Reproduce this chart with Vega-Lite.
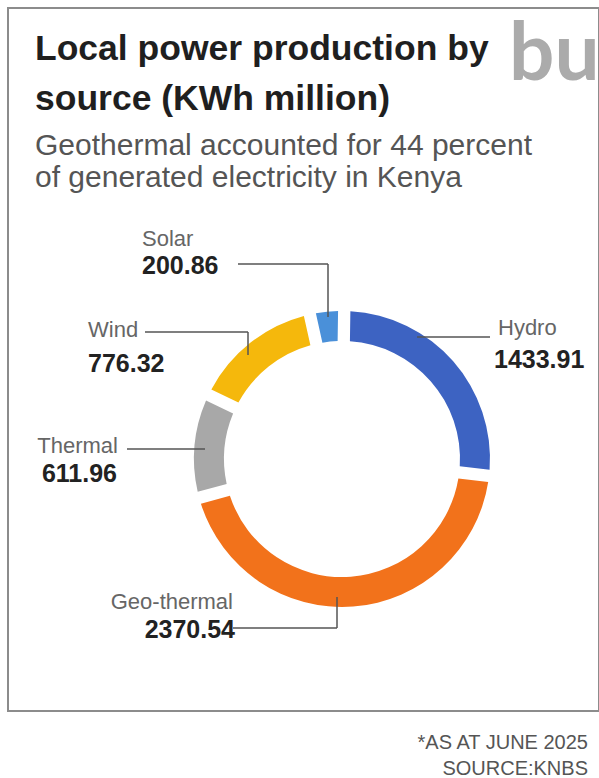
{
  "$schema": "https://vega.github.io/schema/vega-lite/v6.json",
  "width": 591,
  "height": 703,
  "autosize": {"type": "none"},
  "padding": {"left": 8, "top": 8, "right": 0, "bottom": 67},
  "background": "white",
  "config": {"view": {"stroke": null}, "font": "Liberation Sans"},
  "title": {
    "text": ["Local power production by", "source (KWh million)"],
    "subtitle": ["Geothermal accounted for 44 percent", "of generated electricity in Kenya"],
    "anchor": "start",
    "frame": "group",
    "orient": "top",
    "offset": -186,
    "dx": 27,
    "font": "Liberation Sans",
    "fontSize": 35.5,
    "fontWeight": "bold",
    "color": "#1f1f1f",
    "lineHeight": 50,
    "subtitleFont": "Liberation Sans",
    "subtitleFontSize": 30,
    "subtitleColor": "#555555",
    "subtitleLineHeight": 32,
    "subtitlePadding": 14
  },
  "datasets": {
    "power": [
      {"source": "Hydro", "value": 1433.91},
      {"source": "Geo-thermal", "value": 2370.54},
      {"source": "Thermal", "value": 611.96},
      {"source": "Wind", "value": 776.32},
      {"source": "Solar", "value": 200.86}
    ],
    "labels": [
      {"source": "Solar", "label": "Solar", "side": "left", "nx": -200, "ny": 213, "vx": -200, "vy": 185},
      {"source": "Wind", "label": "Wind", "side": "left", "nx": -254, "ny": 122, "vx": -254, "vy": 87},
      {"source": "Hydro", "label": "Hydro", "side": "left", "nx": 156, "ny": 124, "vx": 152, "vy": 91},
      {"source": "Thermal", "label": "Thermal", "side": "right", "nx": -224, "ny": 6, "vx": -225, "vy": -23},
      {"source": "Geo-thermal", "label": "Geo-thermal", "side": "right", "nx": -109, "ny": -150, "vx": -107, "vy": -179}
    ],
    "leaders": [
      {"source": "Solar", "x": -104, "y": 195, "x2": -14, "y2": 195},
      {"source": "Solar", "x": -14, "y": 195, "x2": -14, "y2": 142},
      {"source": "Wind", "x": -197, "y": 127, "x2": -94, "y2": 127},
      {"source": "Wind", "x": -94, "y": 127, "x2": -94, "y2": 104},
      {"source": "Hydro", "x": 75, "y": 122, "x2": 148, "y2": 122},
      {"source": "Thermal", "x": -215, "y": 10, "x2": -137, "y2": 10},
      {"source": "Geo-thermal", "x": -109, "y": -169, "x2": -5, "y2": -169},
      {"source": "Geo-thermal", "x": -5, "y": -169, "x2": -5, "y2": -138}
    ]
  },
  "layer": [
    {
      "data": {"values": [{}]},
      "mark": {"type": "rect", "fillOpacity": 0, "stroke": "#8c8c8c", "strokeWidth": 2},
      "encoding": {
        "x": {"datum": -334, "type": "quantitative", "scale": {"domain": [-334, 257], "nice": false, "zero": false}, "axis": null},
        "x2": {"datum": 257},
        "y": {"datum": 451, "type": "quantitative", "scale": {"domain": [-252, 451], "nice": false, "zero": false}, "axis": null},
        "y2": {"datum": -252}
      }
    },
    {
      "data": {"name": "power"},
      "transform": [{"window": [{"op": "row_number", "as": "idx"}]}],
      "mark": {"type": "arc", "outerRadius": 148, "innerRadius": 118, "padAngle": 0.065},
      "encoding": {
        "x": {"datum": 0, "type": "quantitative", "scale": {"domain": [-334, 257], "nice": false, "zero": false}, "axis": null},
        "y": {"datum": 0, "type": "quantitative", "scale": {"domain": [-252, 451], "nice": false, "zero": false}, "axis": null},
        "theta": {"field": "value", "type": "quantitative", "stack": true, "scale": {"range": [0.015, 6.2982]}},
        "order": {"field": "idx", "type": "quantitative"},
        "color": {
          "field": "source",
          "type": "nominal",
          "scale": {
            "domain": ["Hydro", "Geo-thermal", "Thermal", "Wind", "Solar"],
            "range": ["#3d63c2", "#f2721b", "#a8a8a8", "#f5b80c", "#4a90d9"]
          },
          "legend": null
        }
      }
    },
    {
      "data": {"name": "leaders"},
      "mark": {"type": "rule", "color": "#555555", "strokeWidth": 1.5},
      "encoding": {
        "x": {"field": "x", "type": "quantitative", "scale": {"domain": [-334, 257], "nice": false, "zero": false}, "axis": null},
        "x2": {"field": "x2"},
        "y": {"field": "y", "type": "quantitative", "scale": {"domain": [-252, 451], "nice": false, "zero": false}, "axis": null},
        "y2": {"field": "y2"}
      }
    },
    {
      "data": {"name": "labels"},
      "transform": [{"filter": "datum.side === 'left'"}],
      "mark": {"type": "text", "align": "left", "baseline": "alphabetic", "fontSize": 22, "color": "#666666"},
      "encoding": {
        "x": {"field": "nx", "type": "quantitative", "scale": {"domain": [-334, 257], "nice": false, "zero": false}, "axis": null},
        "y": {"field": "ny", "type": "quantitative", "scale": {"domain": [-252, 451], "nice": false, "zero": false}, "axis": null},
        "text": {"field": "label"}
      }
    },
    {
      "data": {"name": "labels"},
      "transform": [
        {"filter": "datum.side === 'left'"},
        {"lookup": "source", "from": {"data": {"name": "power"}, "key": "source", "fields": ["value"]}}
      ],
      "mark": {"type": "text", "align": "left", "baseline": "alphabetic", "fontSize": 25, "fontWeight": "bold", "color": "#222222"},
      "encoding": {
        "x": {"field": "vx", "type": "quantitative", "scale": {"domain": [-334, 257], "nice": false, "zero": false}, "axis": null},
        "y": {"field": "vy", "type": "quantitative", "scale": {"domain": [-252, 451], "nice": false, "zero": false}, "axis": null},
        "text": {"field": "value", "type": "quantitative", "format": ".2f"}
      }
    },
    {
      "data": {"name": "labels"},
      "transform": [{"filter": "datum.side === 'right'"}],
      "mark": {"type": "text", "align": "right", "baseline": "alphabetic", "fontSize": 22, "color": "#666666"},
      "encoding": {
        "x": {"field": "nx", "type": "quantitative", "scale": {"domain": [-334, 257], "nice": false, "zero": false}, "axis": null},
        "y": {"field": "ny", "type": "quantitative", "scale": {"domain": [-252, 451], "nice": false, "zero": false}, "axis": null},
        "text": {"field": "label"}
      }
    },
    {
      "data": {"name": "labels"},
      "transform": [
        {"filter": "datum.side === 'right'"},
        {"lookup": "source", "from": {"data": {"name": "power"}, "key": "source", "fields": ["value"]}}
      ],
      "mark": {"type": "text", "align": "right", "baseline": "alphabetic", "fontSize": 25, "fontWeight": "bold", "color": "#222222"},
      "encoding": {
        "x": {"field": "vx", "type": "quantitative", "scale": {"domain": [-334, 257], "nice": false, "zero": false}, "axis": null},
        "y": {"field": "vy", "type": "quantitative", "scale": {"domain": [-252, 451], "nice": false, "zero": false}, "axis": null},
        "text": {"field": "value", "type": "quantitative", "format": ".2f"}
      }
    },
    {
      "data": {"values": [{}]},
      "mark": {"type": "text", "text": "bu", "align": "left", "baseline": "alphabetic", "fontSize": 80, "font": "Lato", "fontWeight": "bold", "color": "#ababab"},
      "encoding": {
        "x": {"datum": 167, "type": "quantitative", "scale": {"domain": [-334, 257], "nice": false, "zero": false}, "axis": null},
        "y": {"datum": 379, "type": "quantitative", "scale": {"domain": [-252, 451], "nice": false, "zero": false}, "axis": null}
      }
    },
    {
      "data": {"values": [{}]},
      "mark": {"type": "text", "text": ["*AS AT JUNE 2025", "SOURCE:KNBS"], "align": "right", "baseline": "alphabetic", "fontSize": 20, "lineHeight": 26, "color": "#555555"},
      "encoding": {
        "x": {"datum": 246, "type": "quantitative", "scale": {"domain": [-334, 257], "nice": false, "zero": false}, "axis": null},
        "y": {"datum": -290, "type": "quantitative", "scale": {"domain": [-252, 451], "nice": false, "zero": false}, "axis": null}
      }
    }
  ]
}
